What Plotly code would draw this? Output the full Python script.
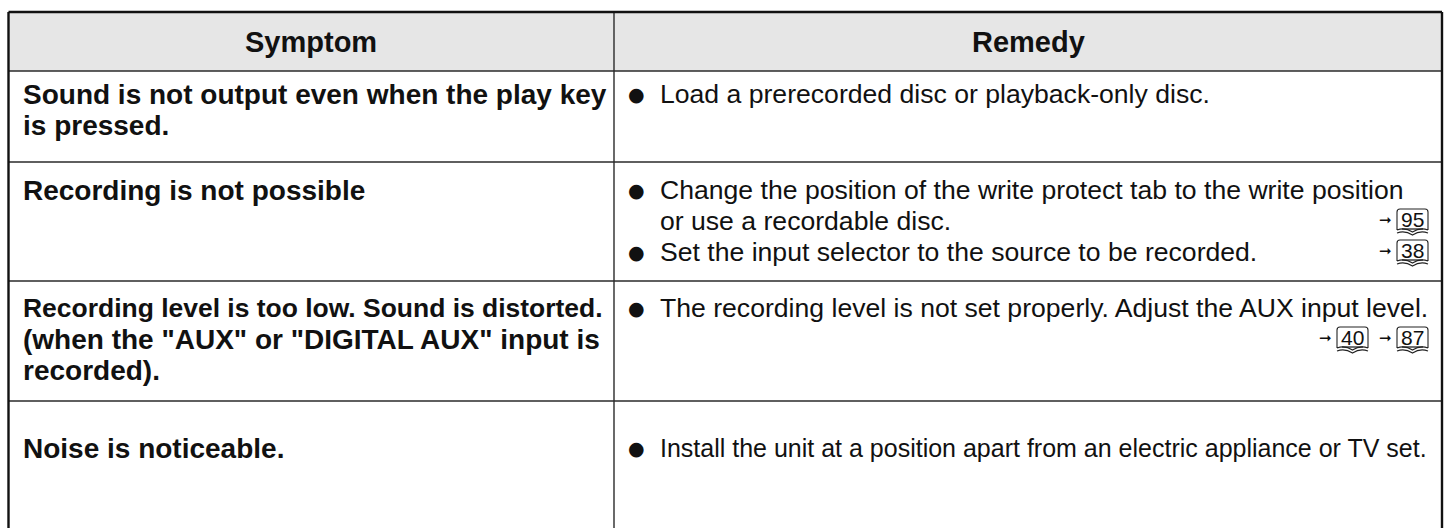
import plotly.graph_objects as go

# ---------------- data ----------------
headers = ["Symptom", "Remedy"]

symptoms = [
    ["Sound is not output even when the play key", "is pressed."],
    ["Recording is not possible"],
    ["Recording level is too low. Sound is distorted.",
     "(when the \"AUX\" or \"DIGITAL AUX\" input is",
     "recorded)."],
    ["Noise is noticeable."],
]

remedies = [
    [["Load a prerecorded disc or playback-only disc."]],
    [["Change the position of the write protect tab to the write position",
      "or use a recordable disc."],
     ["Set the input selector to the source to be recorded."]],
    [["The recording level is not set properly. Adjust the AUX input level."]],
    [["Install the unit at a position apart from an electric appliance or TV set."]],
]

# page references: (row, line index within the row's remedy block, pages)
page_refs = [
    (1, 1, ["95"]),
    (1, 2, ["38"]),
    (2, 1, ["40", "87"]),
]

# ---------------- layout / style ----------------
W, H = 1450, 528
L, R, T = 8.5, 1442, 12
X_DIV = 614
HEAD_B = 71
ROW_B = [162, 281, 401, 540]
FIRST_LINE = [94, 190, 308, 448]
PITCH = 31
FONT = "Liberation Sans, Arial, Helvetica, sans-serif"
FS_SYM = 28
FS_REM = 26.6
# lines that are set tighter in the original
squeeze_sym = {(2, 0): 0.945}
squeeze_rem = {(3, 0): 0.94}

fig = go.Figure()
shapes = []
ann = []

shapes.append(dict(type="rect", x0=L, x1=R, y0=T, y1=HEAD_B,
                   fillcolor="#e6e6e6", line=dict(width=0), layer="below"))
for yb in [HEAD_B] + ROW_B[:-1]:
    shapes.append(dict(type="line", x0=L, x1=R, y0=yb, y1=yb,
                       line=dict(color="#2a2a2a", width=1.6)))
shapes.append(dict(type="line", x0=X_DIV, x1=X_DIV, y0=T, y1=H + 5,
                   line=dict(color="#2a2a2a", width=1.4)))
for x0, x1, y0, y1 in [(L, R, T, T), (L, L, T, H + 5), (R, R, T, H + 5)]:
    shapes.append(dict(type="line", x0=x0, x1=x1, y0=y0, y1=y1,
                       line=dict(color="#111", width=2.4)))

for txt, xc in zip(headers, [(L + X_DIV) / 2, (X_DIV + R) / 2]):
    ann.append(dict(x=xc, y=(T + HEAD_B) / 2, text=f"<b>{txt}</b>",
                    xanchor="center", yanchor="middle", showarrow=False,
                    font=dict(family=FONT, size=29, color="#111")))

for i, lines in enumerate(symptoms):
    for j, line in enumerate(lines):
        fs = FS_SYM * squeeze_sym.get((i, j), 1.0)
        ann.append(dict(x=21, y=FIRST_LINE[i] + j * PITCH, text=f"<b>{line}</b>",
                        xanchor="left", yanchor="middle", showarrow=False,
                        font=dict(family=FONT, size=fs, color="#111")))

for i, bullets in enumerate(remedies):
    k = 0
    for b in bullets:
        ann.append(dict(x=636, y=FIRST_LINE[i] + k * PITCH, text="●",
                        xanchor="center", yanchor="middle", showarrow=False,
                        font=dict(family="DejaVu Sans", size=19, color="#111")))
        for line in b:
            fs = FS_REM * squeeze_rem.get((i, k), 1.0)
            ann.append(dict(x=658, y=FIRST_LINE[i] + k * PITCH, text=line,
                            xanchor="left", yanchor="middle", showarrow=False,
                            font=dict(family=FONT, size=fs, color="#111")))
            k += 1


def book(bx, yc, num):
    w, top, bot = 31, yc - 13, yc + 8
    path = (f"M {bx},{bot} L {bx},{top+3} Q {bx},{top} {bx+3},{top} "
            f"L {bx+w-3},{top} Q {bx+w},{top} {bx+w},{top+3} L {bx+w},{bot} "
            f"M {bx},{bot} Q {bx+w/4},{bot-3} {bx+w/2},{bot+2} Q {bx+3*w/4},{bot-3} {bx+w},{bot} "
            f"M {bx},{bot+3} Q {bx+w/4},{bot} {bx+w/2},{bot+5} Q {bx+3*w/4},{bot} {bx+w},{bot+3}")
    shapes.append(dict(type="path", path=path, line=dict(color="#222", width=1.1)))
    shapes.append(dict(type="line", x0=bx + 5, x1=bx + w - 5, y0=bot - 1, y1=bot - 1,
                       line=dict(color="#222", width=1.3)))
    ann.append(dict(x=bx + w / 2, y=yc - 3, text=num, xanchor="center",
                    yanchor="middle", showarrow=False,
                    font=dict(family=FONT, size=21, color="#111")))
    ann.append(dict(x=bx - 3, y=yc - 2, text="➞", xanchor="right",
                    yanchor="middle", showarrow=False,
                    font=dict(family="DejaVu Sans", size=15, color="#111")))


for row, li, pages in page_refs:
    yc = FIRST_LINE[row] + li * PITCH + 1
    x_right = 1428
    for p in reversed(pages):
        book(x_right - 31, yc, p)
        x_right -= 60

fig.update_layout(
    width=W, height=H, margin=dict(l=0, r=0, t=0, b=0),
    paper_bgcolor="white", plot_bgcolor="white",
    xaxis=dict(range=[0, W], visible=False, fixedrange=True),
    yaxis=dict(range=[H, 0], visible=False, fixedrange=True),
    shapes=shapes, annotations=ann, showlegend=False,
)
fig.write_html("out.html", config={"displayModeBar": False},
               post_script="document.body.style.margin='0';")
